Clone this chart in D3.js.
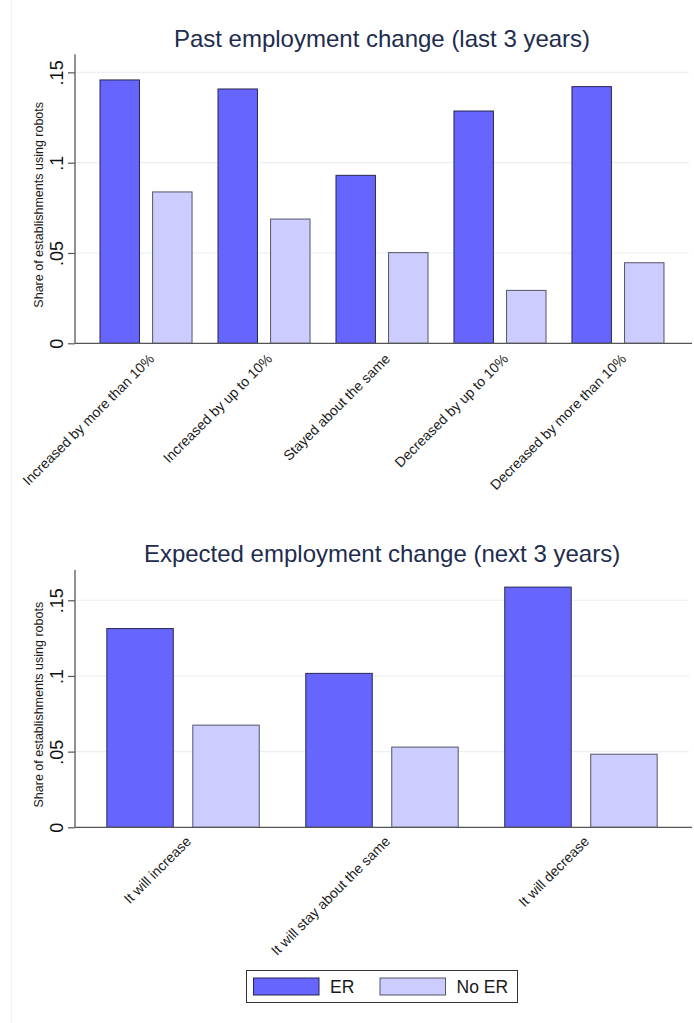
<!DOCTYPE html>
<html>
<head>
<meta charset="utf-8">
<script src="https://cdn.jsdelivr.net/npm/d3@7"></script>
<style>
  html, body { margin: 0; padding: 0; background: #fff; }
  svg { display: block; font-family: Arial, "Liberation Sans", sans-serif; }
</style>
</head>
<body>
<svg id="chart" width="694" height="1023"></svg>
<script>
// ---- data ----
const seriesNames = ["ER", "No ER"];
const pastCategories = ["Increased by more than 10%", "Increased by up to 10%", "Stayed about the same", "Decreased by up to 10%", "Decreased by more than 10%"];
const pastER = [0.1458, 0.1408, 0.0930, 0.1286, 0.1421];
const pastNoER = [0.0838, 0.0688, 0.0502, 0.0293, 0.0446];
const expCategories = ["It will increase", "It will stay about the same", "It will decrease"];
const expER = [0.1313, 0.1017, 0.1587];
const expNoER = [0.0675, 0.0530, 0.0483];
const yTickValues = [0, 0.05, 0.10, 0.15];
const yTickLabels = ["0", ".05", ".1", ".15"];
const yTitle = "Share of establishments using robots";
const pastTitle = "Past employment change (last 3 years)";
const expTitle = "Expected employment change (next 3 years)";

const colors = { "ER": "#6666ff", "No ER": "#ccccff" };
const strokes = { "ER": "#262650", "No ER": "#555566" };

const svg = d3.select("#chart");
svg.append("rect").attr("width", 694).attr("height", 1023).attr("fill", "#fff");
svg.append("line").attr("x1", 11.5).attr("x2", 11.5).attr("y1", 0).attr("y2", 1023)
   .attr("stroke", "#f3f3f3").attr("stroke-width", 1);

function panel(cfg) {
  const g = svg.append("g");
  const x0 = cfg.x0, x1 = cfg.x1;
  const y = d3.scaleLinear().domain([0, cfg.ymax]).range([cfg.yBase, cfg.yTop]);
  const xb = d3.scaleBand().domain(cfg.categories).range([x0, x1])
    .paddingInner(cfg.pIn).paddingOuter(cfg.pOut);
  const xs = d3.scaleBand().domain(seriesNames).range([0, xb.bandwidth()])
    .paddingInner(cfg.pSub).paddingOuter(0);

  // gridlines
  g.append("g").selectAll("line").data(yTickValues.filter(v => v > 0)).join("line")
    .attr("x1", x0 + 1).attr("x2", x1)
    .attr("y1", d => y(d)).attr("y2", d => y(d))
    .attr("stroke", "#eaf0f2").attr("stroke-width", 1.2);

  // title
  g.append("text").attr("x", (x0 + x1) / 2).attr("y", cfg.titleY)
    .attr("text-anchor", "middle").attr("font-size", 24).attr("fill", "#1e2c4e")
    .text(cfg.title);

  // bars
  const rows = cfg.categories.map((c, i) => ({ cat: c, vals: [
    { s: "ER", v: cfg.er[i] }, { s: "No ER", v: cfg.noer[i] } ] }));
  const grp = g.append("g").selectAll("g").data(rows).join("g")
    .attr("transform", d => `translate(${xb(d.cat)},0)`);
  grp.selectAll("rect").data(d => d.vals).join("rect")
    .attr("x", d => xs(d.s)).attr("width", xs.bandwidth())
    .attr("y", d => y(d.v)).attr("height", d => y(0) - y(d.v))
    .attr("fill", d => colors[d.s]).attr("stroke", d => strokes[d.s]).attr("stroke-width", 1);

  // y axis
  const ya = g.append("g").attr("transform", `translate(${x0},0)`)
    .call(d3.axisLeft(y).tickValues(yTickValues).tickFormat((d, i) => yTickLabels[i]).tickSize(7).tickSizeOuter(0));
  ya.attr("font-size", null).attr("font-family", null);
  ya.select(".domain").attr("stroke", "#555").attr("stroke-width", 1.3)
    .attr("d", `M0,${cfg.yTop}V${cfg.yBase}`);
  ya.selectAll(".tick line").attr("stroke", "#555").attr("stroke-width", 1.2);
  ya.selectAll(".tick text").attr("x", 0).attr("dy", 0)
    .attr("transform", "translate(-12,0) rotate(-90)")
    .attr("text-anchor", "middle").style("font-size", "18px").attr("fill", "#111");

  // y title
  g.append("text").attr("transform", `translate(43,${(cfg.yTop + cfg.yBase) / 2 + 6}) rotate(-90)`)
    .attr("text-anchor", "middle").attr("font-size", 12.5).attr("fill", "#1a1a1a")
    .text(yTitle);

  // x axis
  const xa = g.append("g").attr("transform", `translate(0,${cfg.yBase})`)
    .call(d3.axisBottom(xb).tickSize(0).tickSizeOuter(0));
  xa.attr("font-size", null).attr("font-family", null);
  xa.select(".domain").attr("stroke", "#555").attr("stroke-width", 1.3)
    .attr("d", `M${x0},0H${x1 + 3}`);
  xa.selectAll(".tick text").attr("y", 0).attr("dy", 0)
    .attr("transform", `translate(9,${cfg.labDy}) rotate(-45)`)
    .attr("text-anchor", "end").style("font-size", "14px").attr("fill", "#1a1a1a");
}

panel({ title: pastTitle, titleY: 47, categories: pastCategories, er: pastER, noer: pastNoER,
  x0: 75, x1: 689, ymax: 0.16, yBase: 343.3, yTop: 54.3, pIn: 0.22, pOut: 0.212, pSub: 0.25, labDy: 16.5 });
panel({ title: expTitle, titleY: 562, categories: expCategories, er: expER, noer: expNoER,
  x0: 75, x1: 689, ymax: 0.17, yBase: 827.3, yTop: 570, pIn: 0.234, pOut: 0.16, pSub: 0.227, labDy: 15 });

// legend
const lg = svg.append("g");
lg.append("rect").attr("x", 246.5).attr("y", 970.5).attr("width", 271).attr("height", 32)
  .attr("fill", "#fff").attr("stroke", "#333").attr("stroke-width", 1);
const legendItems = lg.selectAll("g.item").data(seriesNames).join("g").attr("class", "item")
  .attr("transform", (d, i) => `translate(${253.5 + i * 126.5},978)`);
legendItems.append("rect").attr("width", 65.5).attr("height", 17)
  .attr("fill", d => colors[d]).attr("stroke", d => strokes[d]).attr("stroke-width", 1);
legendItems.append("text").attr("x", 76.5).attr("y", 15).attr("font-size", 17.5)
  .attr("fill", "#1a1a1a").text(d => d);
</script>
</body>
</html>
